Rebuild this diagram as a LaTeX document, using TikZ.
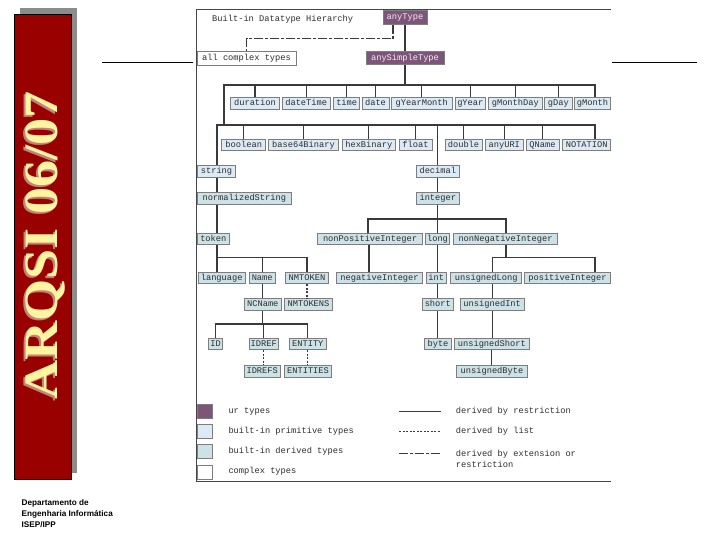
\documentclass[tikz,border=0pt]{standalone}
\usepackage{graphicx}
\usepackage{fontspec}
\setmonofont{Liberation Mono}
\newfontfamily\bannerfont{Liberation Serif}
\newfontfamily\deptfont{Liberation Sans}
\usetikzlibrary{positioning}

\definecolor{bannerred}{RGB}{153,0,0}
\definecolor{bannertext}{RGB}{255,244,160}
\definecolor{bannershade}{RGB}{196,130,120}
\definecolor{shadowgray}{RGB}{140,140,140}
\definecolor{framegray}{RGB}{70,70,70}
\definecolor{linkgray}{RGB}{58,58,58}
\definecolor{boxline}{RGB}{125,125,125}
\definecolor{boxtext}{RGB}{45,45,45}
\definecolor{urfill}{RGB}{125,85,120}
\definecolor{urtext}{RGB}{246,234,246}
\definecolor{primfill}{RGB}{220,234,246}
\definecolor{dervfill}{RGB}{204,226,230}

\tikzset{
  typebox/.style={draw=boxline, line width=0.7pt, inner sep=0pt,
    minimum height=11.6pt, text height=6pt, text depth=1.6pt,
    font=\ttfamily\fontsize{8.7pt}{10pt}\selectfont, text=boxtext},
  prim/.style={typebox, fill=primfill},
  derv/.style={typebox, fill=dervfill},
  ur/.style={typebox, fill=urfill, text=urtext, minimum height=13.5pt},
  cplx/.style={typebox, fill=white, minimum height=14pt},
  wd/.style={minimum width=#1pt},
  legtext/.style={anchor=west, inner sep=0pt,
    font=\ttfamily\fontsize{8.7pt}{10.7pt}\selectfont, text=boxtext},
  link/.style={draw=linkgray, line width=1.3pt},
  listlink/.style={link, dash pattern=on 2pt off 1.5pt},
  extlink/.style={link, dash pattern=on 9pt off 2pt on 3pt off 2pt},
  banner/.style={rotate=90, anchor=base, inner sep=0pt,
    font=\bannerfont\bfseries\fontsize{48pt}{48pt}\selectfont},
  dept/.style={anchor=base west, inner sep=0pt,
    font=\deptfont\bfseries\fontsize{8.2pt}{10pt}\selectfont}
}

\begin{document}
\begin{tikzpicture}[x=1pt, y=-1pt]
  \useasboundingbox (0,0) rectangle (720,540);

  % Slide decoration
  \fill[shadowgray] (20,8) rectangle (77,473);
  \filldraw[fill=bannerred, draw=black, line width=0.8pt] (14,14) rectangle (71,479);
  \node[banner, text=bannershade] (arqsishade) at (55.5,247.5) {\scalebox{1.13}[1]{ARQSI 06/07}};
  \node[banner, text=bannertext]  (arqsi)      at (57.5,245.5) {\scalebox{1.13}[1]{ARQSI 06/07}};
  \node[dept] (dept1) at (21.5,505.6) {Departamento de};
  \node[dept] (dept2) at (21.5,516.3) {Engenharia Informática};
  \node[dept] (dept3) at (21.5,527.0) {ISEP/IPP};
  \draw[line width=0.9pt] (102,62) -- (193,62);
  \draw[line width=0.9pt] (612,62) -- (697,62);

  % Diagram frame
  \draw[framegray, line width=1pt] (611,10) -- (196.5,10) -- (196.5,481) -- (611,481);
  \node[legtext] (title) at (212,19) {Built-in Datatype Hierarchy};

  % Ur types and complex types
  \node[ur, wd=44] (anyType)       at (405,17.5) {anyType};
  \node[ur, wd=78] (anySimpleType) at (405,58)   {anySimpleType};
  \node[cplx, wd=99] (allComplex)  at (246.5,58) {all complex types};

  % Primitive types, first row
  \node[prim, wd=48.6] (duration)   at (255,103.5)   {duration};
  \node[prim, wd=47.7] (dateTime)   at (306.2,103.5) {dateTime};
  \node[prim, wd=26]   (time)       at (346.7,103.5) {time};
  \node[prim, wd=27]   (date)       at (375.5,103.5) {date};
  \node[prim, wd=61]   (gYearMonth) at (421.8,103.5) {gYearMonth};
  \node[prim, wd=30.7] (gYear)      at (470.3,103.5) {gYear};
  \node[prim, wd=53.3] (gMonthDay)  at (515.3,103.5) {gMonthDay};
  \node[prim, wd=27.3] (gDay)       at (558.3,103.5) {gDay};
  \node[prim, wd=36.4] (gMonth)     at (592.5,103.5) {gMonth};

  % Primitive types, second row
  \node[prim, wd=44]   (boolean)      at (243.7,145) {boolean};
  \node[prim, wd=70.4] (base64Binary) at (303.5,145) {base64Binary};
  \node[prim, wd=53]   (hexBinary)    at (368.8,145) {hexBinary};
  \node[prim, wd=33]   (float)        at (415.5,145) {float};
  \node[prim, wd=37]   (double)       at (463.5,145) {double};
  \node[prim, wd=38]   (anyURI)       at (504.3,145) {anyURI};
  \node[prim, wd=33]   (QName)        at (542.5,145) {QName};
  \node[prim, wd=48]   (NOTATION)     at (586.7,145) {NOTATION};
  \node[prim, wd=38.4] (string)       at (216.5,171.5) {string};
  \node[prim, wd=42.3] (decimal)      at (437.8,171.5) {decimal};

  % Derived types, string branch
  \node[derv, wd=94]   (normalizedString) at (244.3,198.5) {normalizedString};
  \node[derv, wd=32]   (token)    at (213.3,239) {token};
  \node[derv, wd=46.7] (language) at (221.7,278) {language};
  \node[derv, wd=25.7] (Name)     at (262.2,278) {Name};
  \node[derv, wd=42.6] (NMTOKEN)  at (307,278)   {NMTOKEN};
  \node[derv, wd=37.7] (NCName)   at (262.8,304.5) {NCName};
  \node[derv, wd=48.4] (NMTOKENS) at (308.5,304.5) {NMTOKENS};
  \node[derv, wd=14.4] (ID)       at (215.5,344) {ID};
  \node[derv, wd=29.3] (IDREF)    at (263.7,344) {IDREF};
  \node[derv, wd=37.7] (ENTITY)   at (307.8,344) {ENTITY};
  \node[derv, wd=35.7] (IDREFS)   at (262.2,371.5) {IDREFS};
  \node[derv, wd=47.4] (ENTITIES) at (308,371.5)   {ENTITIES};

  % Derived types, decimal branch
  \node[derv, wd=42.3]  (integer)            at (437.8,198.5) {integer};
  \node[derv, wd=104.6] (nonPositiveInteger) at (370,239)     {nonPositiveInteger};
  \node[derv, wd=23.6]  (long)               at (437.5,239)   {long};
  \node[derv, wd=104.4] (nonNegativeInteger) at (505.5,239)   {nonNegativeInteger};
  \node[derv, wd=85.6]  (negativeInteger)    at (379.5,278)   {negativeInteger};
  \node[derv, wd=19.3]  (int)                at (436.3,278)   {int};
  \node[derv, wd=71]    (unsignedLong)       at (486.2,278)   {unsignedLong};
  \node[derv, wd=86.4]  (positiveInteger)    at (567.5,278)   {positiveInteger};
  \node[derv, wd=31]    (short)              at (437.8,304.5) {short};
  \node[derv, wd=64.3]  (unsignedInt)        at (492.2,304.5) {unsignedInt};
  \node[derv, wd=27.4]  (byte)               at (438,344)     {byte};
  \node[derv, wd=75]    (unsignedShort)      at (491.8,344)   {unsignedShort};
  \node[derv, wd=70.6]  (unsignedByte)       at (492,371.5)   {unsignedByte};

  % Bus lines
  \coordinate (bus1) at (224,85);
  \coordinate (bus2) at (217,125);
  \coordinate (busE) at (595,0);
  \coordinate (spine) at (217,0);
  \coordinate (bus3) at (0,219);
  \coordinate (bus4) at (0,257.3);
  \coordinate (bus5) at (0,324);
  \coordinate (bus6) at (492.5,257.3);

  % Derived by extension or restriction
  \draw[extlink] ([xshift=-12pt]anyType.south) -- ++(0,14) -| (allComplex.north);

  % Derived by restriction
  \draw[link] (anyType) -- (anySimpleType);
  \draw[link] (anySimpleType) -- (anySimpleType |- bus1);
  \draw[link] (bus2 -| bus1) -- (bus1) -- (busE |- bus1) -- (busE |- gMonth.north);
  \foreach \t in {duration,dateTime,time,date,gYearMonth,gYear,gMonthDay,gDay}
    \draw[link] (\t.north) -- (\t.north |- bus1);
  \draw[link] (spine |- string.north) -- (bus2) -- (busE |- bus2) -- (busE |- NOTATION.north);
  \foreach \t in {boolean,base64Binary,hexBinary,float,double,anyURI,QName,decimal}
    \draw[link] (\t.north) -- (\t.north |- bus2);

  \draw[link] (spine |- string.south) -- (spine |- normalizedString.north);
  \draw[link] (spine |- normalizedString.south) -- (spine |- token.north);
  \draw[link] (spine |- token.south) -- (spine |- language.north);
  \draw[link] (spine |- bus4) -| (NMTOKEN.north);
  \draw[link] (Name.north) -- (Name.north |- bus4);
  \draw[link] (Name.south) -- (Name.south |- NCName.north);
  \draw[link] (NCName.south) -- (NCName.south |- bus5);
  \draw[link] (ID.north) |- (ENTITY.north |- bus5) -- (ENTITY.north);
  \draw[link] (IDREF.north) -- (IDREF.north |- bus5);

  \draw[link] (decimal) -- (integer);
  \draw[link] (integer.south) -- (integer.south |- bus3);
  \draw[link] ([xshift=-2pt]nonPositiveInteger.north) |- ([xshift=0.5pt]nonNegativeInteger.north |- bus3)
    -- ([xshift=0.5pt]nonNegativeInteger.north);
  \draw[link] (long.north) -- (long.north |- bus3);
  \draw[link] ([xshift=-1pt]nonPositiveInteger.south) -- ([xshift=-1pt]nonPositiveInteger.south |- negativeInteger.north);
  \draw[link] (long.south) -- (long.south |- int.north);
  \draw[link] (long.south |- int.south) -- (long.south |- short.north);
  \draw[link] (short) -- (short |- byte.north);
  \draw[link] ([xshift=0.5pt]nonNegativeInteger.south) -- ([xshift=0.5pt]nonNegativeInteger.south |- bus6);
  \draw[link] (bus6 |- unsignedLong.north) -- (bus6) -- (bus6 -| busE) -- (busE |- positiveInteger.north);
  \draw[link] (bus6 |- unsignedLong.south) -- (bus6 |- unsignedInt.north);
  \draw[link] (unsignedInt) -- (unsignedInt |- unsignedShort.north);
  \draw[link] (unsignedShort) -- (unsignedShort |- unsignedByte.north);

  % Derived by list
  \draw[listlink] (NMTOKEN.south) -- (NMTOKEN.south |- NMTOKENS.north);
  \draw[listlink] (IDREF.south) -- (IDREF.south |- IDREFS.north);
  \draw[listlink] (ENTITY.south) -- (ENTITY.south |- ENTITIES.north);

  % Legend
  \node[ur, minimum width=15pt, minimum height=14.3pt]   (legUr)   at (204.8,411.2) {};
  \node[prim, minimum width=15pt, minimum height=14.3pt] (legPrim) at (204.8,431.5) {};
  \node[derv, minimum width=15pt, minimum height=14.3pt] (legDerv) at (204.8,451.5) {};
  \node[cplx, minimum width=15pt, minimum height=14.3pt] (legCplx) at (204.8,472.5) {};
  \node[legtext] (legUrText)   at (228.3,411.7) {ur types};
  \node[legtext] (legPrimText) at (228.3,431.7) {built-in primitive types};
  \node[legtext] (legDervText) at (228.3,451)   {built-in derived types};
  \node[legtext] (legCplxText) at (228.3,471.7) {complex types};

  \coordinate (restrA) at (399,411.7);   \coordinate (restrB) at (440.7,411.7);
  \coordinate (listA)  at (399,431.7);   \coordinate (listB)  at (440.7,431.7);
  \coordinate (extA)   at (399,453.3);   \coordinate (extB)   at (440.7,453.3);
  \draw[link, line width=1.1pt] (restrA) -- (restrB);
  \draw[listlink, line width=1.1pt] (listA) -- (listB);
  \draw[extlink, line width=1.1pt] (extA) -- (extB);
  \node[legtext] (legRestr) at (455.7,411.7) {derived by restriction};
  \node[legtext] (legList)  at (455.7,431.7) {derived by list};
  \node[legtext, align=left] (legExt) at (455.7,458.7) {derived by extension or\\restriction};
\end{tikzpicture}
\end{document}
